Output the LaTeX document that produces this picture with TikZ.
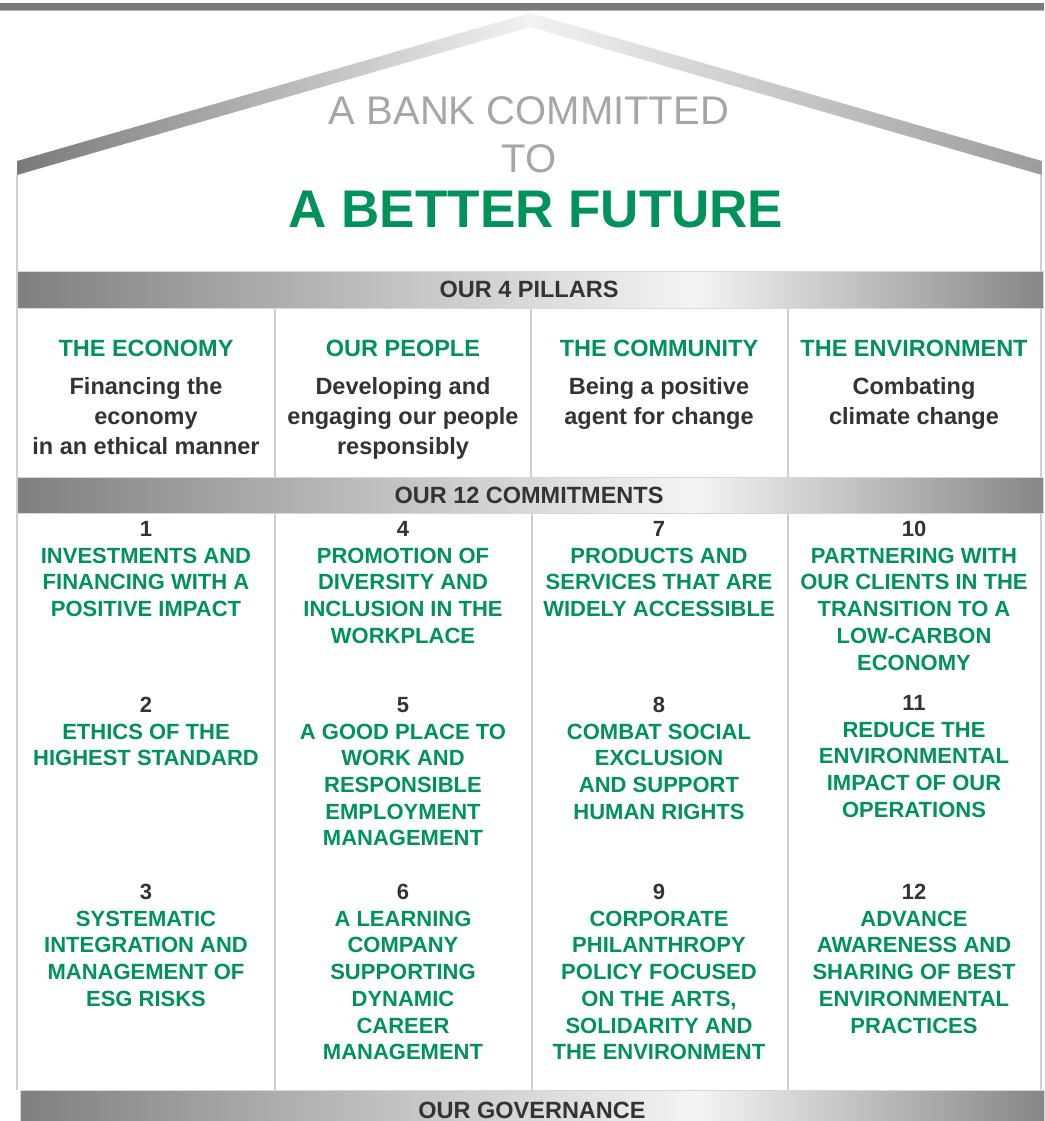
\documentclass[tikz,border=0pt]{standalone}
\usepackage{fontspec}
\setmainfont{Liberation Sans}
\usepackage{xcolor}
\definecolor{ourgreen}{HTML}{00925A}
\definecolor{titlegray}{HTML}{A6A6A6}
\definecolor{darktext}{HTML}{333333}
\definecolor{wallgray}{HTML}{CFCFCF}
\definecolor{bandedge}{HTML}{D6D6D6}
\definecolor{bandlow}{HTML}{7F7F7F}
\definecolor{bandmid}{HTML}{C8C8C8}
\definecolor{bandhigh}{HTML}{F4F4F4}
\definecolor{bandend}{HTML}{868686}
\definecolor{rooflow}{HTML}{7A7A7A}
\definecolor{roofhigh}{HTML}{F2F2F2}
\definecolor{roofend}{HTML}{9C9C9C}
\definecolor{topbar}{HTML}{7A7A7A}
\definecolor{topline}{HTML}{B4B4B4}
\pgfdeclarehorizontalshading{bandshade}{100bp}{color(0bp)=(bandlow); color(25bp)=(bandlow); color(45bp)=(bandmid); color(58bp)=(bandhigh); color(75bp)=(bandend); color(100bp)=(bandend)}
\pgfdeclarehorizontalshading{roofshade}{100bp}{color(0bp)=(rooflow); color(25bp)=(rooflow); color(50bp)=(roofhigh); color(75bp)=(roofend); color(100bp)=(roofend)}
\newcommand{\cnum}[1]{\textcolor{darktext}{#1}}

\begin{document}
\begin{tikzpicture}[
    x=1pt, y=-1pt,
    wall/.style={draw=wallgray, line width=1.5pt},
    band/.style={shading=bandshade, draw=bandedge, line width=1pt},
    bandtext/.style={font=\bfseries\fontsize{23.5}{28}\selectfont, text=darktext, inner sep=0pt},
    pillarhead/.style={anchor=north, inner sep=0pt, font=\bfseries\fontsize{23.5}{28}\selectfont, text=ourgreen},
    pillartext/.style={anchor=north, inner sep=0pt, align=center, font=\bfseries\fontsize{23.5}{30}\selectfont, text=darktext},
    commit/.style={anchor=north, inner sep=0pt, align=center, font=\bfseries\fontsize{22}{26.7}\selectfont, text=ourgreen}
]
\useasboundingbox (0,0) rectangle (1044,1121);

% top bar and roof
\fill[topbar] (0,3) rectangle (1044,10);
\draw[topline, line width=1pt] (0,10.5) -- (1044,10.5);
\shade[shading=roofshade] (17,161) -- (530,13) -- (1042,161) -- (1042,175) -- (530,27) -- (17,175) -- cycle;

% walls
\draw[wall] (17,175) -- (17,1090);
\draw[wall] (1041,175) -- (1041,1090);

% column lines
\draw[wall] (275,308) -- (275,477); \draw[wall] (531,308) -- (531,477); \draw[wall] (788,308) -- (788,477);
\draw[wall] (275,513) -- (275,1090); \draw[wall] (532,513) -- (532,1090); \draw[wall] (788,513) -- (788,1090);

% bands
\path[band] (17,271) rectangle (1043,308);
\path[band] (17,477) rectangle (1043,513);
\path[band] (20,1090) rectangle (1044,1122);
\node[bandtext] (pillars) at (529,289.5) {OUR 4 PILLARS};
\node[bandtext] (commitments) at (529,495) {OUR 12 COMMITMENTS};
\node[bandtext, anchor=base] (governance) at (532,1118) {OUR GOVERNANCE};

% title
\node[anchor=north, inner sep=0pt, align=center, font=\fontsize{40}{48}\selectfont, text=titlegray] (committed) at (529,96.5) {A BANK COMMITTED\\TO};
\node[anchor=north, inner sep=0pt, font=\bfseries\fontsize{53}{60}\selectfont, text=ourgreen] (future) at (536,191) {A BETTER FUTURE};

% pillars
\node[pillarhead] (economy) at (146,340) {THE ECONOMY};
\node[pillarhead] (people) at (403,340) {OUR PEOPLE};
\node[pillarhead] (community) at (659,340) {THE COMMUNITY};
\node[pillarhead] (environment) at (914,340) {THE ENVIRONMENT};
\node[pillartext] (economytext) at (146,377) {Financing the\\economy\\in an ethical manner};
\node[pillartext] (peopletext) at (403,377) {Developing and\\engaging our people\\responsibly};
\node[pillartext] (communitytext) at (659,377) {Being a positive\\agent for change};
\node[pillartext] (environmenttext) at (914,377) {Combating\\climate change};

% commitments
\node[commit] (c1) at (146,521) {\cnum{1}\\INVESTMENTS AND\\FINANCING WITH A\\POSITIVE IMPACT};
\node[commit] (c2) at (146,697) {\cnum{2}\\ETHICS OF THE\\HIGHEST STANDARD};
\node[commit] (c3) at (146,884) {\cnum{3}\\SYSTEMATIC\\INTEGRATION AND\\MANAGEMENT OF\\ESG RISKS};
\node[commit] (c4) at (403,521) {\cnum{4}\\PROMOTION OF\\DIVERSITY AND\\INCLUSION IN THE\\WORKPLACE};
\node[commit] (c5) at (403,697) {\cnum{5}\\A GOOD PLACE TO\\WORK AND\\RESPONSIBLE\\EMPLOYMENT\\MANAGEMENT};
\node[commit] (c6) at (403,884) {\cnum{6}\\A LEARNING\\COMPANY\\SUPPORTING\\DYNAMIC\\CAREER\\MANAGEMENT};
\node[commit] (c7) at (659,521) {\cnum{7}\\PRODUCTS AND\\SERVICES THAT ARE\\WIDELY ACCESSIBLE};
\node[commit] (c8) at (659,697) {\cnum{8}\\COMBAT SOCIAL\\EXCLUSION\\AND SUPPORT\\HUMAN RIGHTS};
\node[commit] (c9) at (659,884) {\cnum{9}\\CORPORATE\\PHILANTHROPY\\POLICY FOCUSED\\ON THE ARTS,\\SOLIDARITY AND\\THE ENVIRONMENT};
\node[commit] (c10) at (914,521) {\cnum{10}\\PARTNERING WITH\\OUR CLIENTS IN THE\\TRANSITION TO A\\LOW-CARBON\\ECONOMY};
\node[commit] (c11) at (914,695) {\cnum{11}\\REDUCE THE\\ENVIRONMENTAL\\IMPACT OF OUR\\OPERATIONS};
\node[commit] (c12) at (914,884) {\cnum{12}\\ADVANCE\\AWARENESS AND\\SHARING OF BEST\\ENVIRONMENTAL\\PRACTICES};
\end{tikzpicture}
\end{document}
